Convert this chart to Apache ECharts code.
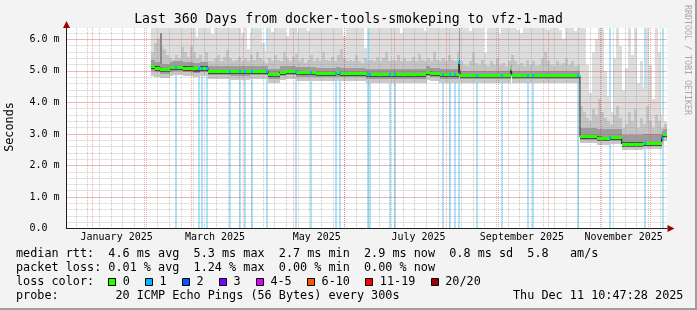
<!DOCTYPE html>
<html><head><meta charset="utf-8">
<script src="https://cdn.jsdelivr.net/npm/echarts@6/dist/echarts.min.js"></script>
<style>html,body{margin:0;padding:0;background:#f3f3f3;}#c{width:697px;height:310px;}</style>
</head><body><div id="c"></div>
<script>
// ================= DATA =================
const titleText = 'Last 360 Days from docker-tools-smokeping to vfz-1-mad';
const RANGE_START = '2024-12-16T10:47:28';
const RANGE_DAYS = 360;
const Y_MAX = 6.36;
const yTickValues = [0, 1, 2, 3, 4, 5, 6];
const yMajorStep = 1;
const yMinorStep = 0.2;
const xLabelNames = ['January 2025', 'March 2025', 'May 2025', 'July 2025', 'September 2025', 'November 2025'];
const xLabelDates = ['2025-01-15T12:00', '2025-03-15T12:00', '2025-05-15T12:00', '2025-07-15T12:00', '2025-09-15T12:00', '2025-11-15T12:00'];
const monthStartDates = ['2025-01-01T00:00', '2025-02-01T00:00', '2025-03-01T00:00', '2025-04-01T00:00', '2025-05-01T00:00', '2025-06-01T00:00',
  '2025-07-01T00:00', '2025-08-01T00:00', '2025-09-01T00:00', '2025-10-01T00:00', '2025-11-01T00:00', '2025-12-01T00:00'];
const firstWeekDate = '2024-12-22T00:00';

// median rtt (ms) as steps: start day (since range start) and value
const medianDays = [50.4, 52.8, 55.8, 61.8, 63.8, 69.8, 75.8, 79.8, 84.8, 97.8, 109.8, 120.8, 127.8, 131.8, 137.8, 149.8, 161.8, 164.0,
  179.8, 215.8, 217.8, 223.8, 235.2, 236.1, 266.4, 267.3, 307.8, 317.8, 325.8, 332.8, 345.8, 356.8, 357.8];
const medianValues = [5.15, 5.09, 5.04, 5.10, 5.12, 5.09, 5.06, 5.09, 4.99, 4.97, 4.99, 4.88, 4.96, 4.99, 4.94, 4.92, 4.94, 4.92,
  4.88, 4.96, 4.92, 4.88, 5.28, 4.85, 5.04, 4.85, 2.91, 2.86, 2.88, 2.68, 2.70, 2.86, 2.97];
const medianLow = [4.85, 4.82, 4.78, 4.84, 4.86, 4.83, 4.80, 4.83, 4.74, 4.72, 4.74, 4.63, 4.71, 4.74, 4.69, 4.67, 4.69, 4.67,
  4.63, 4.71, 4.67, 4.63, 4.72, 4.62, 4.80, 4.62, 2.71, 2.66, 2.68, 2.50, 2.52, 2.66, 2.77];
const medianHigh = [5.33, 5.27, 5.22, 5.28, 5.30, 5.27, 5.24, 5.27, 5.17, 5.15, 5.17, 5.06, 5.14, 5.17, 5.12, 5.10, 5.12, 5.10,
  5.06, 5.14, 5.10, 5.06, 6.40, 5.00, 5.19, 5.00, 3.20, 3.15, 3.17, 2.98, 3.00, 3.10, 3.15];

// intervals with 1 lost ping (day since range start)
const lossDays = [65.4, 79.4, 81.0, 84.2, 97.8, 104.2, 106.8, 111.2, 120.4, 137.4, 146.4, 161.4, 163.8, 180.8, 182.2, 193.8, 196.8,
  225.8, 229.8, 232.8, 235.4, 245.8, 260.8, 276.8, 279.4, 306.8, 325.8, 346.8, 357.4];
const lossDuration = 1.2;

// smoke columns
const smokeFirstDay = 50.4, smokeStepDays = 1.8;
const smokeMax = [
  6.4,6.4,6.4,6.4,6.4,6.4,6.4,6.4,6.4,6.4,
  6.4,6.4,6.4,6.4,6.4,6.09,6.4,6.4,6.4,6.4,
  6.16,6.4,6.4,6.4,6.4,6.4,6.4,6.4,6.4,6.4,
  6.19,6.4,5.7,6.2,6.4,6.4,6.4,5.9,5.63,6.4,
  6.23,6.4,6.4,6.4,6.4,6.1,6.4,6.4,6.2,6.4,
  6.4,6.4,6.28,6.4,6.4,6.4,6.4,6.4,6.4,6.4,
  6.4,6.4,6.4,6.4,6.1,6.4,6.4,6.4,6.4,6.4,
  6.4,5.73,5.31,6.4,6.4,6.4,6.4,6.4,6.4,6.4,
  6.4,6.4,6.4,6.2,6.4,6.4,6.4,6.4,6.4,6.4,
  6.4,6.25,6.4,6.4,6.4,6.4,6.4,6.4,6.4,6.4,
  6.4,6.4,6.4,6.4,6.4,6.4,6.27,6.4,6.4,6.4,
  6.4,5.57,6.4,6.4,6.4,6.4,6.16,6.4,6.4,6.4,
  6.4,6.4,6.3,6.2,6.4,6.4,6.4,6.4,6.4,6.4,
  6.4,6.4,6.3,6.4,6.4,6.4,6.3,6.0,6.4,6.4,
  6.4,6.25,6.4,6.4,6.4,5.2,4.3,5.6,6.0,6.4,
  6.4,5.0,4.2,3.7,5.4,6.4,5.8,4.4,5.1,6.4,
  5.5,6.4,4.6,5.3,4.5,6.4,5.2,4.1,6.4,5.6,
  3.6,3.4];
const smokeMid = [
  5.6,5.9,6.0,5.8,5.7,5.5,5.4,5.35,5.5,5.4,
  5.75,5.6,5.45,5.8,5.6,5.4,5.5,5.3,5.6,5.3,
  5.3,5.4,5.5,5.3,5.45,5.65,5.4,5.3,5.35,5.45,
  5.3,5.4,5.3,5.5,5.35,5.6,5.4,5.3,5.25,5.4,
  5.3,5.5,5.35,5.3,5.6,5.4,5.3,5.45,5.55,5.3,
  5.4,5.25,5.35,5.5,5.3,5.4,5.3,5.6,5.35,5.3,
  5.45,5.3,5.5,5.7,5.4,5.3,5.35,5.3,5.5,5.3,
  5.25,5.4,5.3,5.35,5.3,5.45,5.3,5.4,5.6,5.3,
  5.35,5.3,5.5,5.3,5.4,5.3,5.3,5.45,5.3,5.55,
  5.35,5.3,5.4,5.3,5.6,5.35,5.3,5.4,5.3,5.5,
  5.35,5.3,5.6,5.3,5.2,5.15,5.3,5.6,5.25,5.2,
  5.35,5.2,5.15,5.3,5.2,5.4,5.2,5.25,5.15,5.3,
  5.5,5.3,5.2,5.25,5.15,5.35,5.2,5.3,5.15,5.2,
  5.4,5.6,5.3,5.2,5.15,5.3,5.2,5.25,5.4,5.2,
  5.3,5.15,5.2,3.9,3.7,3.5,3.4,3.8,3.6,4.1,
  3.7,3.5,3.4,3.3,3.6,3.9,3.5,3.2,3.3,3.7,
  3.4,3.8,3.2,3.5,3.3,3.9,3.4,3.2,3.6,3.4,
  3.2,3.3];
const spikeDays = [55.8];
const spikeTops = [6.2];

// legend
const legendRows = [
  'median rtt:  4.6 ms avg  5.3 ms max  2.7 ms min  2.9 ms now  0.8 ms sd  5.8   am/s',
  'packet loss: 0.01 % avg  1.24 % max  0.00 % min  0.00 % now',
  'loss color:',
  'probe:        20 ICMP Echo Pings (56 Bytes) every 300s'
];
const lossLabels = ['0', '1', '2', '3', '4-5', '6-10', '11-19', '20/20'];
const lossColors = ['#26ff00', '#00b8ff', '#0059ff', '#7e00ff', '#dd00ff', '#ff5500', '#ff0000', '#a10000'];
const dateText = 'Thu Dec 11 10:47:28 2025';
const yLabelText = 'Seconds';
const creditText = 'RRDTOOL / TOBI OETIKER';

// ================= BUILD =================
const t0ms = Date.parse(RANGE_START + 'Z');
const dayOf = s => (Date.parse(s + 'Z') - t0ms) / 864e5;
const xLabelDays = xLabelDates.map(dayOf);
const segAt = t => { let k = 0; for (let i = 0; i < medianDays.length; i++) if (medianDays[i] <= t) k = i; return k; };
const nSeg = medianDays.length;
const segEnd = i => (i < nSeg - 1 ? medianDays[i + 1] : RANGE_DAYS);

// vertical grid lines: [day, major]
const vGrid = [];
for (let d = dayOf(firstWeekDate); d < RANGE_DAYS; d += 7) vGrid.push([d, 0]);
monthStartDates.forEach(s => vGrid.push([dayOf(s), 1]));

const cols = smokeMax.map((mx, i) => {
  const a = smokeFirstDay + i * smokeStepDays, b = a + smokeStepDays;
  const s = segAt((a + b) / 2);
  return [a, b, medianLow[s], smokeMid[i], mx];
});
const segs = medianDays.map((d, i) => [d, segEnd(i), medianLow[i], medianValues[i], medianHigh[i]]);
const spikes = spikeDays.map((d, i) => [d, d + lossDuration, medianValues[segAt(d)], spikeTops[i]]);
const losses = lossDays.map(d => [d - lossDuration / 2, d + lossDuration / 2, medianValues[segAt(d)]]);
const medianLine = medianDays.map((d, i) => [d, medianValues[i]]).concat([[RANGE_DAYS, medianValues[nSeg - 1]]]);

const MONO = 'DejaVu Sans Mono';
const MAJOR_COLOR = 'rgba(255,0,0,0.35)';
const MINOR_COLOR = 'rgba(143,143,143,0.5)';
const px = (api, t) => Math.round(api.coord([t, 0])[0]);
const py = (api, v) => Math.round(api.coord([0, Math.min(v, Y_MAX)])[1]);

const chart = echarts.init(document.getElementById('c'), null, { renderer: 'canvas', width: 697, height: 310 });

function txt(x, y, text, o) {
  o = o || {};
  return { type: 'text', x: x, y: y, rotation: o.rot || 0, silent: true, z: 100,
    style: { text: text, fill: o.color || '#000', fontSize: o.size || 11.8, fontFamily: MONO,
      align: o.align || 'left', verticalAlign: 'middle' } };
}
const graphics = [];
graphics.push(txt(348.5, 20, titleText, { size: 13.2, align: 'center' }));
graphics.push(txt(10, 127, yLabelText, { rot: Math.PI / 2, align: 'center' }));
graphics.push(txt(687, 60, creditText, { rot: -Math.PI / 2, align: 'center', size: 8.3, color: '#a8a8a8' }));
const rowY = [254, 268, 282, 296];
legendRows.forEach((r, i) => graphics.push(txt(16, rowY[i], r)));
graphics.push(txt(513, rowY[3], dateText));
let sx = 108.3;
lossLabels.forEach((lab, i) => {
  graphics.push({ type: 'rect', silent: true, z: 100, shape: { x: Math.round(sx) + 0.5, y: 278.5, width: 7, height: 7 },
    style: { fill: lossColors[i], stroke: '#000', lineWidth: 1 } });
  graphics.push(txt(sx + 14.4, rowY[2], lab));
  sx = sx + 14.4 + lab.length * 7.12 + 15.4;
});
// axis arrows and frame
graphics.push({ type: 'polygon', silent: true, z: 100, shape: { points: [[66.5, 21], [63, 28], [70, 28]] }, style: { fill: '#a00000' } });
graphics.push({ type: 'polygon', silent: true, z: 100, shape: { points: [[674.5, 228.5], [667.5, 225], [667.5, 232]] }, style: { fill: '#a00000' } });
graphics.push({ type: 'rect', silent: true, z: 100, shape: { x: 0, y: 308, width: 697, height: 2 }, style: { fill: '#9e9e9e' } });
graphics.push({ type: 'rect', silent: true, z: 100, shape: { x: 695, y: 0, width: 2, height: 310 }, style: { fill: '#9e9e9e' } });

const option = {
  backgroundColor: '#f3f3f3',
  animation: false,
  grid: { left: 66.5, right: 30, top: 28, bottom: 81.5, show: true, backgroundColor: '#ffffff', borderWidth: 0,
    containLabel: false, outerBoundsMode: 'none' },
  xAxis: {
    type: 'value', min: 0, max: RANGE_DAYS, z: 8,
    axisLine: { show: true, onZero: false, lineStyle: { color: '#1f1f1f', width: 1 } },
    axisTick: { show: false }, splitLine: { show: false },
    axisLabel: {
      customValues: xLabelDays, margin: 4, fontSize: 10, fontFamily: MONO, color: '#000',
      formatter: v => { let k = 0, best = 1e9; xLabelDays.forEach((d, i) => { if (Math.abs(d - v) < best) { best = Math.abs(d - v); k = i; } }); return xLabelNames[k]; }
    }
  },
  yAxis: [
    { // minor horizontal grid (drawn above the smoke)
      type: 'value', position: 'left', offset: 0, min: 0, max: Y_MAX, interval: yMinorStep, z: 4,
      axisLine: { show: false }, axisTick: { show: false }, axisLabel: { show: false },
      splitLine: { show: true, showMinLine: false, showMaxLine: false, lineStyle: { color: MINOR_COLOR, width: 1, type: [1, 1] } }
    },
    { // major horizontal grid, labels, axis line
      type: 'value', position: 'left', offset: 0, min: 0, max: Y_MAX, interval: yMajorStep, z: 4,
      axisLine: { show: true, onZero: false, lineStyle: { color: '#1f1f1f', width: 1 } },
      axisTick: { show: false },
      splitLine: { show: true, showMinLine: false, showMaxLine: false, lineStyle: { color: MAJOR_COLOR, width: 1, type: [1, 1] } },
      axisLabel: {
        customValues: yTickValues, margin: 7, fontSize: 10, fontFamily: MONO, color: '#000',
        formatter: v => (v === 0 ? '0.0  ' : v.toFixed(1) + ' m')
      }
    }
  ],
  graphic: graphics,
  series: [
    { // loss background
      type: 'custom', z: 1, silent: true, data: losses,
      renderItem: (p, api) => {
        const a = px(api, api.value(0)), b = px(api, api.value(1));
        const top = py(api, Y_MAX), bot = py(api, 0);
        return { type: 'rect', shape: { x: a, y: top, width: Math.max(1, b - a), height: bot - top }, style: { fill: '#aee3f9' } };
      }
    },
    { // smoke columns
      type: 'custom', z: 2, silent: true, data: cols,
      renderItem: (p, api) => {
        const a = px(api, api.value(0)), b = px(api, api.value(1));
        const lo = py(api, api.value(2)), mid = py(api, api.value(3)), mx = py(api, api.value(4));
        return { type: 'group', children: [
          { type: 'rect', shape: { x: a, y: mx, width: b - a, height: lo - mx }, style: { fill: '#dddddd' } },
          { type: 'rect', shape: { x: a, y: mid, width: b - a, height: lo - mid }, style: { fill: '#c4c4c4' } }
        ] };
      }
    },
    { // dark spikes
      type: 'custom', z: 3, silent: true, data: spikes,
      renderItem: (p, api) => {
        const a = px(api, api.value(0)), b = px(api, api.value(1));
        const lo = py(api, api.value(2)), hi = py(api, api.value(3));
        return { type: 'rect', shape: { x: a, y: hi, width: Math.max(1, b - a), height: lo - hi }, style: { fill: '#8a8a8a' } };
      }
    },
    { // smoke core around the median
      type: 'custom', z: 3, silent: true, data: segs,
      renderItem: (p, api) => {
        const a = px(api, api.value(0)), b = px(api, api.value(1));
        const low = api.value(2), v = api.value(3), high = api.value(4);
        const yl = py(api, low), yv = py(api, v), yh = py(api, high);
        const ym1 = py(api, v - 0.5 * (v - low)), yc1 = py(api, v - 0.08), yc2 = py(api, v + 0.05);
        return { type: 'group', children: [
          { type: 'rect', shape: { x: a, y: yv, width: b - a, height: yl - yv }, style: { fill: '#c8c8c8' } },
          { type: 'rect', shape: { x: a, y: yh, width: b - a, height: ym1 - yh }, style: { fill: '#9c9c9c' } },
          { type: 'rect', shape: { x: a, y: yc2, width: b - a, height: yc1 - yc2 }, style: { fill: '#4a4a4a' } }
        ] };
      }
    },
    { // vertical grid lines (drawn over the smoke)
      type: 'custom', z: 4, silent: true, data: vGrid,
      renderItem: (p, api) => {
        const x = px(api, api.value(0)) + 0.5;
        const major = api.value(1) === 1;
        return { type: 'line', shape: { x1: x, y1: py(api, 0), x2: x, y2: py(api, Y_MAX) },
          style: { stroke: major ? MAJOR_COLOR : MINOR_COLOR, lineWidth: 1, lineDash: [1, 1] } };
      }
    },
    { // median connector line
      type: 'line', z: 5, silent: true, step: 'end', symbol: 'none', data: medianLine,
      lineStyle: { color: '#202020', width: 1 }
    },
    { // median, loss 0
      type: 'custom', z: 6, silent: true, data: segs,
      renderItem: (p, api) => {
        const a = px(api, api.value(0)), b = px(api, api.value(1));
        const y = api.coord([0, api.value(3)])[1];
        return { type: 'rect', shape: { x: a, y: Math.round(y - 1.5), width: b - a, height: 3 }, style: { fill: lossColors[0] } };
      }
    },
    { // median, loss 1
      type: 'custom', z: 7, silent: true, data: losses,
      renderItem: (p, api) => {
        const a = px(api, api.value(0)), b = px(api, api.value(1));
        const y = api.coord([0, api.value(2)])[1];
        return { type: 'rect', shape: { x: a, y: Math.round(y - 1.5), width: Math.max(1, b - a), height: 3 }, style: { fill: lossColors[1] } };
      }
    }
  ]
};
chart.setOption(option);
</script>
</body></html>
